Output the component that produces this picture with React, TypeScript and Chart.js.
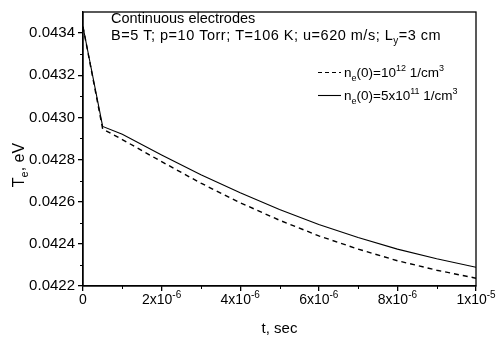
import React, { useEffect, useRef } from 'react';
import { Chart, registerables } from 'chart.js';

Chart.register(...registerables);

// ---- data ----
const timeSec = [0, 0.5e-6, 1e-6, 2e-6, 3e-6, 4e-6, 5e-6, 6e-6, 7e-6, 8e-6, 9e-6, 1e-5];
const teHighDensity = [0.04343, 0.042945, 0.042895, 0.04279, 0.042688, 0.042595, 0.042512, 0.042438, 0.042375, 0.04232, 0.042275, 0.042237];
const teLowDensity = [0.04343, 0.042957, 0.04292, 0.042822, 0.042728, 0.042642, 0.042563, 0.042492, 0.04243, 0.042375, 0.042329, 0.042289];
const seriesLabels = ['n_{e}(0)=10^{12} 1/cm^{3}', 'n_{e}(0)=5x10^{11} 1/cm^{3}'];
const yTickValues = [0.0422, 0.0424, 0.0426, 0.0428, 0.043, 0.0432, 0.0434];
const yTickLabels = ['0.0422', '0.0424', '0.0426', '0.0428', '0.0430', '0.0432', '0.0434'];
const yMinorValues = [0.0423, 0.0425, 0.0427, 0.0429, 0.0431, 0.0433];
const xTickValues = [0, 2e-6, 4e-6, 6e-6, 8e-6, 1e-5];
const xTickLabels = ['0', '2x10^{-6}', '4x10^{-6}', '6x10^{-6}', '8x10^{-6}', '1x10^{-5}'];
const xMinorValues = [1e-6, 3e-6, 5e-6, 7e-6, 9e-6];
const annotationLines = ['Continuous electrodes', 'B=5 T; p=10 Torr; T=106 K; u=620 m/s; L_{y}=3 cm'];
const xTitle = 't, sec';
const yTitle = 'T_{e}, eV';

const FONT = 'Arial, "Liberation Sans", Helvetica, sans-serif';

type Seg = { t: string; m: 'n' | 'sub' | 'sup' };
function parseRich(s: string): Seg[] {
  const out: Seg[] = [];
  const re = /([_^])\{([^}]*)\}/g;
  let last = 0;
  let m: RegExpExecArray | null;
  while ((m = re.exec(s))) {
    if (m.index > last) out.push({ t: s.slice(last, m.index), m: 'n' });
    out.push({ t: m[2], m: m[1] === '_' ? 'sub' : 'sup' });
    last = re.lastIndex;
  }
  if (last < s.length) out.push({ t: s.slice(last), m: 'n' });
  return out;
}

function drawRich(ctx: CanvasRenderingContext2D, s: string, x: number, y: number, size: number, align: 'left' | 'center' | 'right', spacing = 0) {
  const segs = parseRich(s);
  const small = Math.round(size * 0.68);
  (ctx as any).letterSpacing = `${spacing}px`;
  let total = 0;
  const widths = segs.map((sg) => {
    ctx.font = `${sg.m === 'n' ? size : small}px ${FONT}`;
    const w = ctx.measureText(sg.t).width;
    total += w;
    return w;
  });
  let cx = align === 'left' ? x : align === 'center' ? x - total / 2 : x - total;
  ctx.textAlign = 'left';
  ctx.textBaseline = 'alphabetic';
  segs.forEach((sg, i) => {
    ctx.font = `${sg.m === 'n' ? size : small}px ${FONT}`;
    const dy = sg.m === 'sup' ? -size * 0.42 : sg.m === 'sub' ? size * 0.28 : 0;
    ctx.fillText(sg.t, cx, y + dy);
    cx += widths[i];
  });
  (ctx as any).letterSpacing = '0px';
}

const decorPlugin = {
  id: 'decor',
  afterDraw(chart: any) {
    const ctx: CanvasRenderingContext2D = chart.ctx;
    const { left, right, top, bottom } = chart.chartArea;
    const xs = chart.scales.x;
    const ys = chart.scales.y;
    ctx.save();
    ctx.strokeStyle = '#000';
    ctx.fillStyle = '#000';
    ctx.lineWidth = 1.3;
    // frame
    ctx.strokeRect(left, top, right - left, bottom - top);
    // minor ticks
    ctx.lineWidth = 1;
    ctx.beginPath();
    yMinorValues.forEach((v) => {
      const py = Math.round(ys.getPixelForValue(v)) + 0.5;
      ctx.moveTo(left - 3, py);
      ctx.lineTo(left, py);
    });
    xMinorValues.forEach((v) => {
      const px = Math.round(xs.getPixelForValue(v)) + 0.5;
      ctx.moveTo(px, bottom);
      ctx.lineTo(px, bottom + 3);
    });
    ctx.stroke();
    // x tick labels
    xTickValues.forEach((v, i) => {
      drawRich(ctx, xTickLabels[i], xs.getPixelForValue(v), bottom + 18, 14, 'center');
    });
    // axis titles
    drawRich(ctx, xTitle, (left + right) / 2, 333, 15, 'center');
    ctx.save();
    ctx.translate(24, (top + bottom) / 2 + 16);
    ctx.rotate(-Math.PI / 2);
    drawRich(ctx, yTitle, 0, 0, 16, 'center');
    ctx.restore();
    // annotation
    drawRich(ctx, annotationLines[0], 111, 23, 14.5, 'left');
    drawRich(ctx, annotationLines[1], 111, 40, 14.5, 'left', 0.5);
    // legend
    const legendY = [77, 100];
    const dashes = [[4, 3], []];
    legendY.forEach((ly, i) => {
      ctx.beginPath();
      ctx.setLineDash(dashes[i]);
      ctx.lineWidth = 1.1;
      ctx.moveTo(318, ly - 4.5);
      ctx.lineTo(341, ly - 4.5);
      ctx.stroke();
      ctx.setLineDash([]);
      drawRich(ctx, seriesLabels[i], 344, ly, 13.5, 'left');
    });
    ctx.restore();
  },
};

export default function App() {
  const ref = useRef<HTMLCanvasElement | null>(null);
  useEffect(() => {
    if (!ref.current) return;
    const chart = new Chart(ref.current, {
      type: 'line',
      data: {
        datasets: [
          {
            label: seriesLabels[0],
            data: timeSec.map((t, i) => ({ x: t, y: teHighDensity[i] })),
            borderColor: '#000',
            borderWidth: 1.4,
            borderDash: [5, 4],
            pointRadius: 0,
            tension: 0,
          },
          {
            label: seriesLabels[1],
            data: timeSec.map((t, i) => ({ x: t, y: teLowDensity[i] })),
            borderColor: '#000',
            borderWidth: 1.1,
            pointRadius: 0,
            tension: 0,
          },
        ],
      },
      options: {
        animation: false,
        responsive: false,
        devicePixelRatio: 1,
        layout: { padding: { top: 7, right: 20, left: 0, bottom: 0 } },
        plugins: { legend: { display: false }, tooltip: { enabled: false } },
        scales: {
          x: {
            type: 'linear',
            min: 0,
            max: 1e-5,
            afterFit: (s: any) => { s.height = 57; },
            afterBuildTicks: (s: any) => { s.ticks = xTickValues.map((v) => ({ value: v })); },
            grid: { drawOnChartArea: false, drawTicks: true, tickLength: 5, color: '#000', lineWidth: 1.3 },
            border: { color: '#000', width: 1.3 },
            ticks: { callback: () => '' },
          },
          y: {
            type: 'linear',
            min: 0.0422,
            max: 0.0435,
            afterFit: (s: any) => { s.width = 83; },
            afterBuildTicks: (s: any) => { s.ticks = yTickValues.map((v) => ({ value: v })); },
            grid: { drawOnChartArea: false, drawTicks: true, tickLength: 5, color: '#000', lineWidth: 1.3 },
            border: { color: '#000', width: 1.3 },
            ticks: {
              color: '#000',
              padding: 3,
              font: { family: FONT, size: 15 },
              callback: (_v: any, i: number) => yTickLabels[i],
            },
          },
        },
      },
      plugins: [decorPlugin],
    });
    return () => chart.destroy();
  }, []);
  return (
    <div style={{ position: 'fixed', left: 0, top: 0, width: 496, height: 343, background: '#fff' }}>
      <canvas ref={ref} width={496} height={343} style={{ width: 496, height: 343, display: 'block' }} />
    </div>
  );
}
